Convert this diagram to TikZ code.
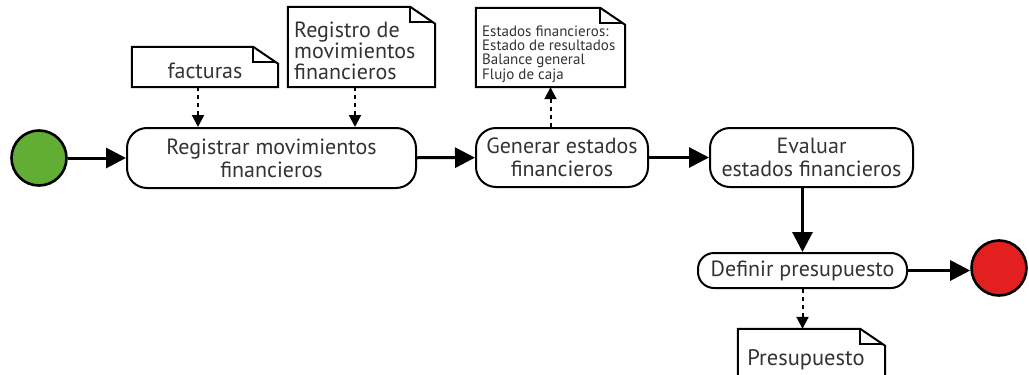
\documentclass[tikz,border=0pt]{standalone}
\usepackage{fontspec}
\setmainfont{PT Sans}
\usetikzlibrary{arrows.meta,calc}
\definecolor{txt}{HTML}{333333}
\definecolor{startgreen}{HTML}{62AD34}
\definecolor{endred}{HTML}{E2201F}
\newcommand\docshape[1]{%
  \draw[docline,fill=white] (#1.north west) -- ([xshift=-25pt]#1.north east) -- ([yshift=-17pt]#1.north east) -- (#1.south east) -- (#1.south west) -- cycle;
  \draw[docline] ([xshift=-25pt]#1.north east) -- ([xshift=-25pt,yshift=-15pt]#1.north east) -- ([xshift=-2pt,yshift=-15pt]#1.north east);}
\begin{document}
\begin{tikzpicture}[x=1pt,y=-1pt,
  act/.style={draw=black,line width=2pt,rounded corners=20pt,align=center,text=txt,
    font=\fontsize{22}{23}\selectfont,inner sep=0pt},
  smallact/.style={act,rounded corners=16pt},
  docbox/.style={inner sep=0pt},
  doctext/.style={text=txt,inner sep=0pt,font=\fontsize{22}{21}\selectfont,align=left},
  docline/.style={line width=2pt,line join=miter},
  flow/.style={line width=3pt,-{Triangle[length=20pt,width=20pt]}},
  dep/.style={line width=2pt,dash pattern=on 4pt off 4pt,-{Triangle[length=12pt,width=12pt]}},
  circ/.style={circle,draw=black,line width=2.6pt,minimum size=55pt,inner sep=0pt}
]
\useasboundingbox (0,0) rectangle (1029,375);

% nodes
\node[circ,fill=startgreen] (start) at (39,158) {};
\node[act,minimum width=289pt,minimum height=60pt] (a1) at (271.5,158) {Registrar movimientos\\financieros};
\node[act,minimum width=172pt,minimum height=59pt] (a2) at (562,157.5) {Generar estados\\financieros};
\node[act,minimum width=203pt,minimum height=59pt] (a3) at (811.5,157.5) {Evaluar\\estados financieros};
\node[smallact,minimum width=209pt,minimum height=35pt] (a4) at (802.5,270.5) {Definir presupuesto};
\node[circ,fill=endred] (end) at (999,268) {};

% documents
\node[docbox,minimum width=146pt,minimum height=40pt] (d1) at (205,67) {};
\docshape{d1}
\node[doctext,anchor=base] (t1) at (205,78) {facturas};
\node[docbox,minimum width=147pt,minimum height=80pt] (d2) at (361.5,47) {};
\docshape{d2}
\node[doctext,anchor=base west] (t2) at (294,79) {Registro de\\movimientos\\financieros};
\node[docbox,minimum width=149pt,minimum height=79pt] (d3) at (550.5,47.5) {};
\docshape{d3}
\node[doctext,anchor=base west,font=\fontsize{15}{14.2}\selectfont] (t3) at (482,79) {Estados financieros:\\Estado de resultados\\Balance general\\Flujo de caja};
\node[docbox,minimum width=147pt,minimum height=50pt] (d4) at (811.5,354) {};
\docshape{d4}
\node[doctext,anchor=base,font=\fontsize{22.5}{24}\selectfont] (t4) at (806,365) {Presupuesto};

% flows
\draw[flow] (start) -- (a1);
\draw[flow] (a1) -- (a2);
\draw[flow] (a2) -- (a3);
\draw[flow] (a4.north |- a3.south) -- (a4.north);
\draw[flow] (a4.east) -- (a4.east -| end.west);

% dependencies
\draw[dep] ([xshift=-7pt]d1.south) -- ([xshift=-7pt]d1.south |- a1.north);
\draw[dep] ([xshift=-6.5pt]d2.south) -- ([xshift=-6.5pt]d2.south |- a1.north);
\draw[dep] (d3.south |- a2.north) -- (d3.south);
\draw[dep] (a4.south) -- (a4.south |- d4.north);
\end{tikzpicture}
\end{document}
